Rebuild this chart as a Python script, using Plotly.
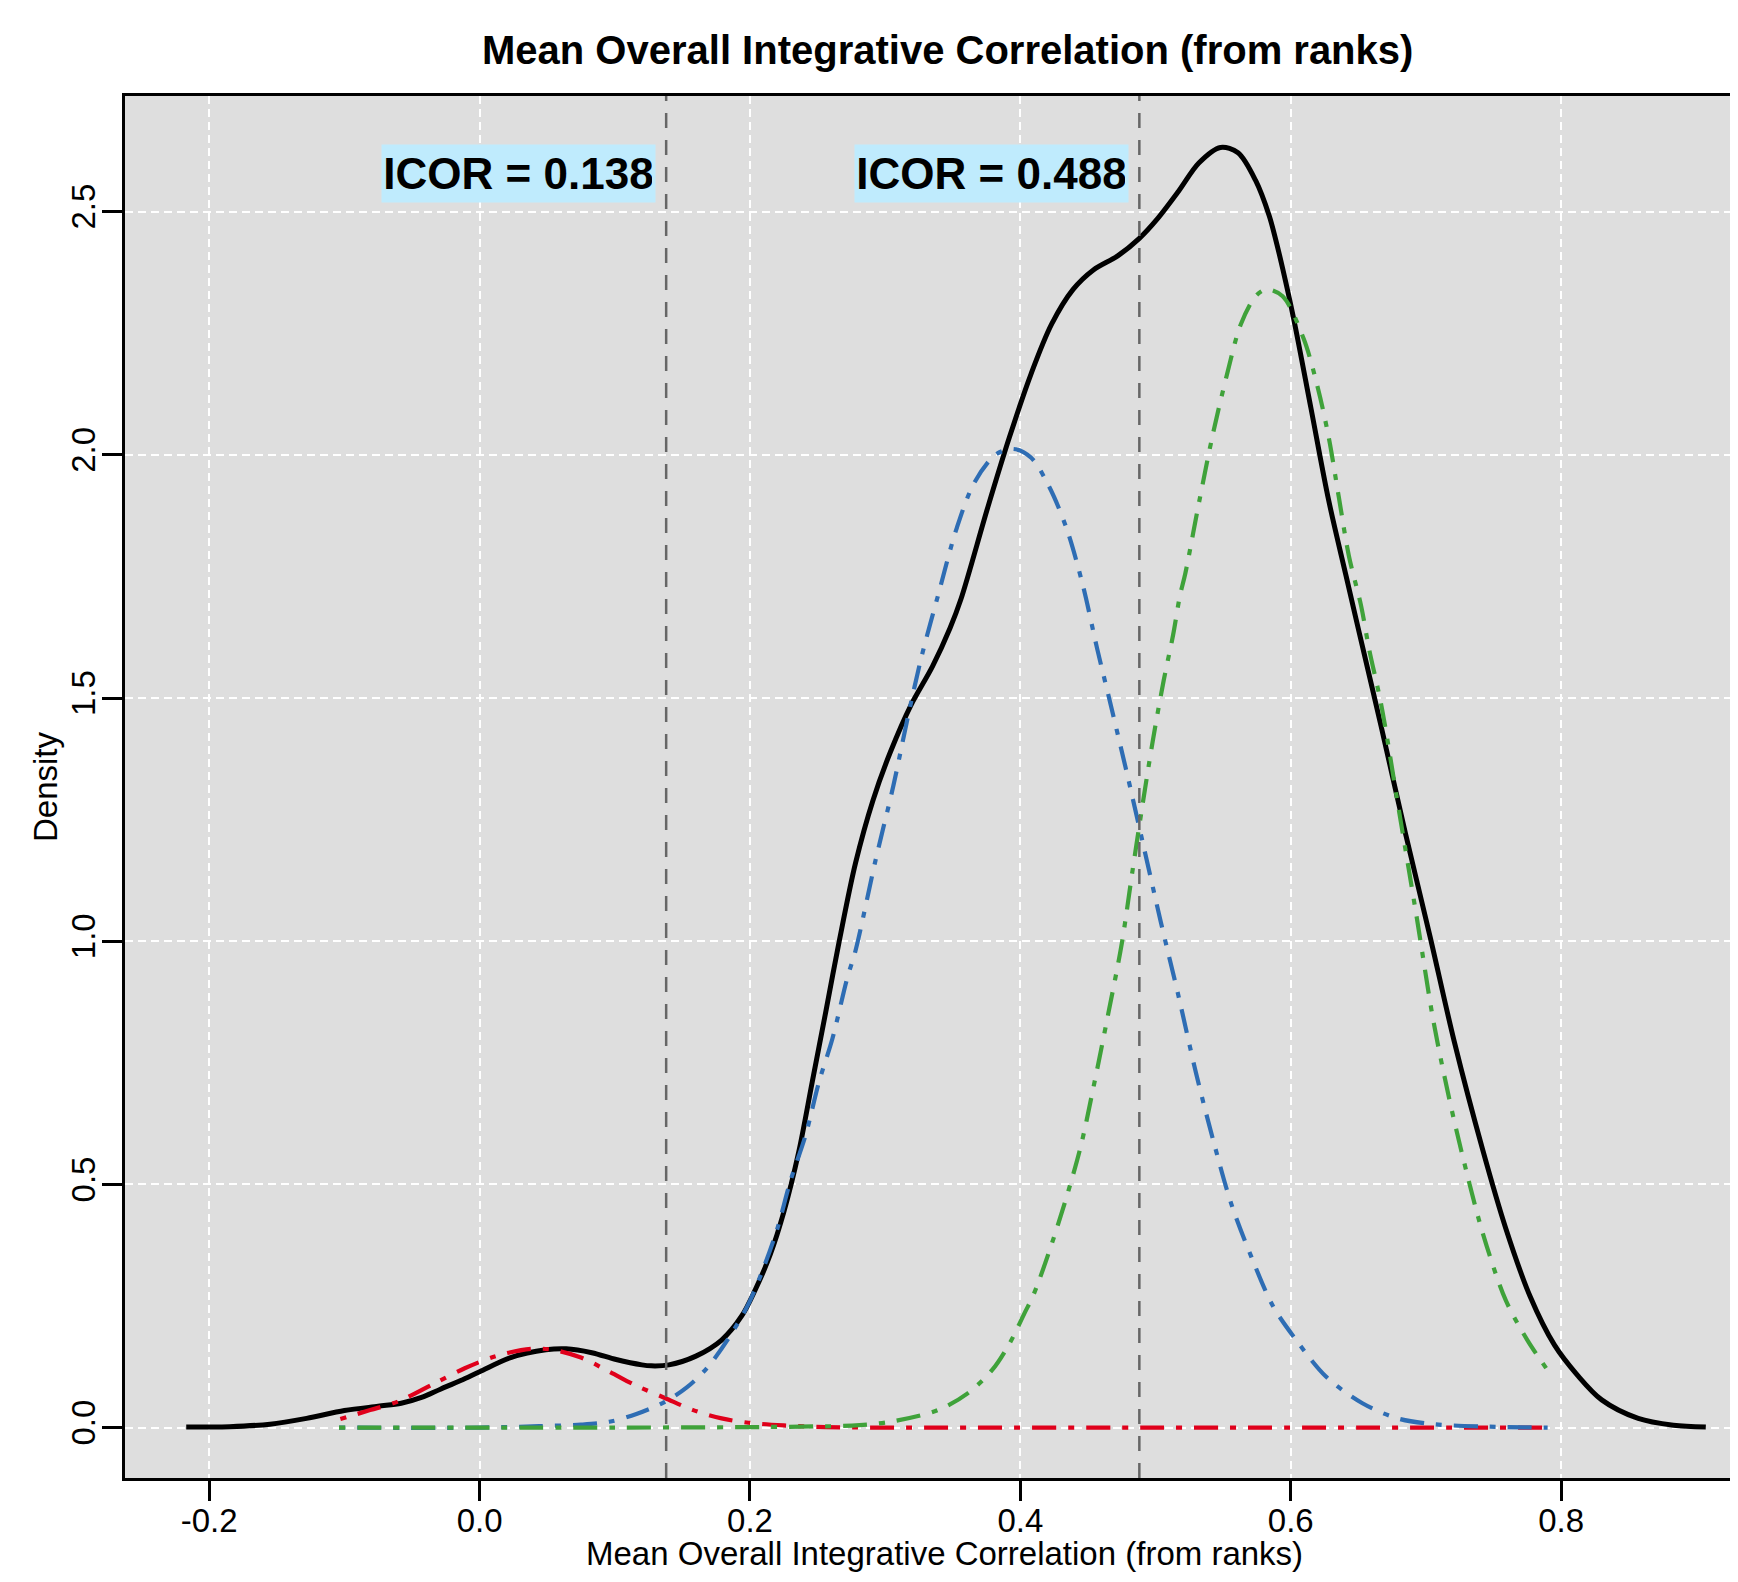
import plotly.graph_objects as go

# ---------------- data ----------------
black_x = [-0.217, -0.185, -0.155, -0.128, -0.100, -0.075, -0.058, -0.043, -0.029, -0.014,
           0.000, 0.023, 0.049, 0.064, 0.083, 0.101, 0.120, 0.127, 0.140, 0.160,
           0.179, 0.194, 0.204, 0.215, 0.225, 0.236, 0.246, 0.256, 0.266, 0.278,
           0.291, 0.304, 0.319, 0.335, 0.348, 0.356, 0.376, 0.392, 0.408, 0.423,
           0.439, 0.454, 0.472, 0.488, 0.501, 0.517, 0.532, 0.548, 0.561, 0.574,
           0.584, 0.589, 0.594, 0.602, 0.615, 0.628, 0.641, 0.651, 0.667, 0.685,
           0.703, 0.721, 0.742, 0.759, 0.777, 0.795, 0.812, 0.830, 0.857, 0.883, 0.907]
black_y = [0.001, 0.002, 0.007, 0.019, 0.035, 0.044, 0.050, 0.062, 0.079, 0.097,
           0.115, 0.144, 0.160, 0.162, 0.154, 0.140, 0.129, 0.127, 0.129, 0.147,
           0.180, 0.230, 0.284, 0.356, 0.443, 0.566, 0.710, 0.854, 1.000, 1.160,
           1.290, 1.390, 1.485, 1.565, 1.644, 1.703, 1.893, 2.037, 2.167, 2.268,
           2.340, 2.380, 2.409, 2.445, 2.484, 2.542, 2.600, 2.632, 2.621, 2.564,
           2.492, 2.441, 2.383, 2.282, 2.095, 1.907, 1.750, 1.630, 1.440, 1.220,
           1.010, 0.793, 0.571, 0.410, 0.270, 0.170, 0.108, 0.057, 0.019, 0.005, 0.001]

red_x = [-0.103, -0.081, -0.060, -0.034, -0.011, 0.012, 0.038, 0.054, 0.075, 0.096,
         0.116, 0.137, 0.158, 0.179, 0.199, 0.225, 0.256, 0.300, 0.500, 0.790]
red_y = [0.0175, 0.036, 0.054, 0.090, 0.122, 0.147, 0.162, 0.160, 0.144, 0.115,
         0.086, 0.061, 0.036, 0.019, 0.010, 0.0045, 0.001, 0.000, 0.000, 0.000]

blue_x = [-0.104, 0.000, 0.044, 0.075, 0.096, 0.116, 0.137, 0.153, 0.168, 0.184,
          0.199, 0.210, 0.220, 0.230, 0.241, 0.251, 0.261, 0.272, 0.278, 0.293,
          0.306, 0.317, 0.327, 0.339, 0.353, 0.366, 0.382, 0.395, 0.408, 0.421,
          0.434, 0.446, 0.457, 0.465, 0.478, 0.491, 0.504, 0.517, 0.530, 0.543,
          0.556, 0.571, 0.587, 0.604, 0.626, 0.653, 0.679, 0.706, 0.746, 0.790]
blue_y = [0.000, 0.000, 0.003, 0.006, 0.012, 0.028, 0.053, 0.082, 0.122, 0.183,
          0.255, 0.328, 0.407, 0.508, 0.600, 0.710, 0.800, 0.925, 0.980, 1.168,
          1.319, 1.464, 1.586, 1.710, 1.850, 1.943, 2.001, 2.012, 1.994, 1.936,
          1.850, 1.734, 1.599, 1.507, 1.355, 1.197, 1.038, 0.887, 0.728, 0.587,
          0.460, 0.350, 0.249, 0.180, 0.105, 0.050, 0.019, 0.007, 0.002, 0.000]

green_x = [-0.104, 0.100, 0.237, 0.281, 0.308, 0.339, 0.361, 0.379, 0.392, 0.403,
           0.410, 0.427, 0.444, 0.454, 0.465, 0.475, 0.483, 0.4905, 0.498, 0.506,
           0.513, 0.518, 0.522, 0.532, 0.5425, 0.553, 0.563, 0.574, 0.582, 0.594,
           0.6095, 0.620, 0.628, 0.6355, 0.643, 0.652, 0.658, 0.667, 0.680, 0.693,
           0.7055, 0.716, 0.726, 0.742, 0.759, 0.775, 0.790]
green_y = [0.000, 0.000, 0.002, 0.005, 0.014, 0.036, 0.0705, 0.118, 0.173, 0.235,
           0.275, 0.410, 0.571, 0.699, 0.851, 0.995, 1.146, 1.283, 1.413, 1.536,
           1.630, 1.710, 1.756, 1.900, 2.044, 2.167, 2.268, 2.326, 2.340, 2.326,
           2.239, 2.138, 2.037, 1.914, 1.792, 1.690, 1.600, 1.485, 1.269, 1.052,
           0.836, 0.692, 0.571, 0.400, 0.262, 0.180, 0.118]

icor_values = [0.138, 0.488]
icor_labels = ["ICOR = 0.138", "ICOR = 0.488"]
label_y = 2.578

x_ticks = [-0.2, 0.0, 0.2, 0.4, 0.6, 0.8]
x_ticktext = ["-0.2", "0.0", "0.2", "0.4", "0.6", "0.8"]
y_ticks = [0.0, 0.5, 1.0, 1.5, 2.0, 2.5]
y_ticktext = ["0.0", "0.5", "1.0", "1.5", "2.0", "2.5"]

title_text = "Mean Overall Integrative Correlation (from ranks)"
xlab_text = "Mean Overall Integrative Correlation (from ranks)"
ylab_text = "Density"

# ---------------- styles ----------------
FONT = "Liberation Sans, Arial, Helvetica, sans-serif"
# page has an 8px body margin: the figure fills the rest of the 1738x1582 window
W, H = 1722, 1566
ML, MR, MT, MB = 117, 0, 88, 96
DOTDASH = "6px,12px,24px,12px"
SMOOTH = 0.9

fig = go.Figure()
fig.add_trace(go.Scatter(x=black_x, y=black_y, mode="lines",
                         line=dict(color="black", width=5, shape="spline", smoothing=SMOOTH)))
fig.add_trace(go.Scatter(x=red_x, y=red_y, mode="lines",
                         line=dict(color="#E0001B", width=4.2, dash=DOTDASH, shape="spline", smoothing=SMOOTH)))
fig.add_trace(go.Scatter(x=blue_x, y=blue_y, mode="lines",
                         line=dict(color="#2E6DB4", width=4.2, dash=DOTDASH, shape="spline", smoothing=SMOOTH)))
fig.add_trace(go.Scatter(x=green_x, y=green_y, mode="lines",
                         line=dict(color="#3FA23A", width=4.2, dash=DOTDASH, shape="spline", smoothing=SMOOTH)))

for v, lab in zip(icor_values, icor_labels):
    fig.add_shape(type="line", x0=v, x1=v, xref="x", y0=0, y1=1, yref="paper",
                  line=dict(color="#666666", width=2.5, dash="15px,12px"), layer="above")
    fig.add_annotation(x=v, y=label_y, xref="x", yref="y", text="<b>" + lab + "</b>",
                       showarrow=False, xanchor="right", yanchor="middle", xshift=-10,
                       bgcolor="#BFEBFD", borderpad=3, width=267, height=51,
                       font=dict(family=FONT, size=44, color="black"))

plot_w = W - ML - MR
plot_h = H - MT - MB
plot_bottom = H - MB
# title
fig.add_annotation(text="<b>" + title_text + "</b>", xref="paper", yref="paper",
                   x=(939 - ML) / plot_w, y=1 + (MT - 42) / plot_h,
                   xanchor="center", yanchor="middle", showarrow=False,
                   font=dict(family=FONT, size=40, color="black"))
# x label
fig.add_annotation(text=xlab_text, xref="paper", yref="paper",
                   x=(937 - ML) / plot_w, y=-(1545 - plot_bottom) / plot_h,
                   xanchor="center", yanchor="middle", showarrow=False,
                   font=dict(family=FONT, size=33, color="black"))
# y label
fig.add_annotation(text=ylab_text, xref="paper", yref="paper",
                   x=(37 - ML) / plot_w, y=0.5, textangle=-90,
                   xanchor="center", yanchor="middle", showarrow=False,
                   font=dict(family=FONT, size=33, color="black"))

axis_common = dict(showline=True, linecolor="black", linewidth=3,
                   ticks="outside", ticklen=20, tickwidth=2.5, tickcolor="black",
                   showgrid=True, gridcolor="white", gridwidth=2, griddash="8px,5px",
                   zeroline=False, tickfont=dict(family=FONT, size=33, color="black"))

fig.update_xaxes(range=[-0.2623, 0.9249], tickmode="array", tickvals=x_ticks,
                 ticktext=x_ticktext, mirror=True, ticklabelstandoff=-9, **axis_common)
fig.update_yaxes(range=[-0.1036, 2.7377], tickmode="array", tickvals=y_ticks,
                 ticktext=y_ticktext, tickangle=-90, ticklabelstandoff=-6, **axis_common)

fig.update_layout(width=W, height=H, margin=dict(l=ML, r=MR, t=MT, b=MB),
                  paper_bgcolor="white", plot_bgcolor="#DEDEDE", showlegend=False,
                  font=dict(family=FONT, color="black"))

fig.write_html("out.html")
